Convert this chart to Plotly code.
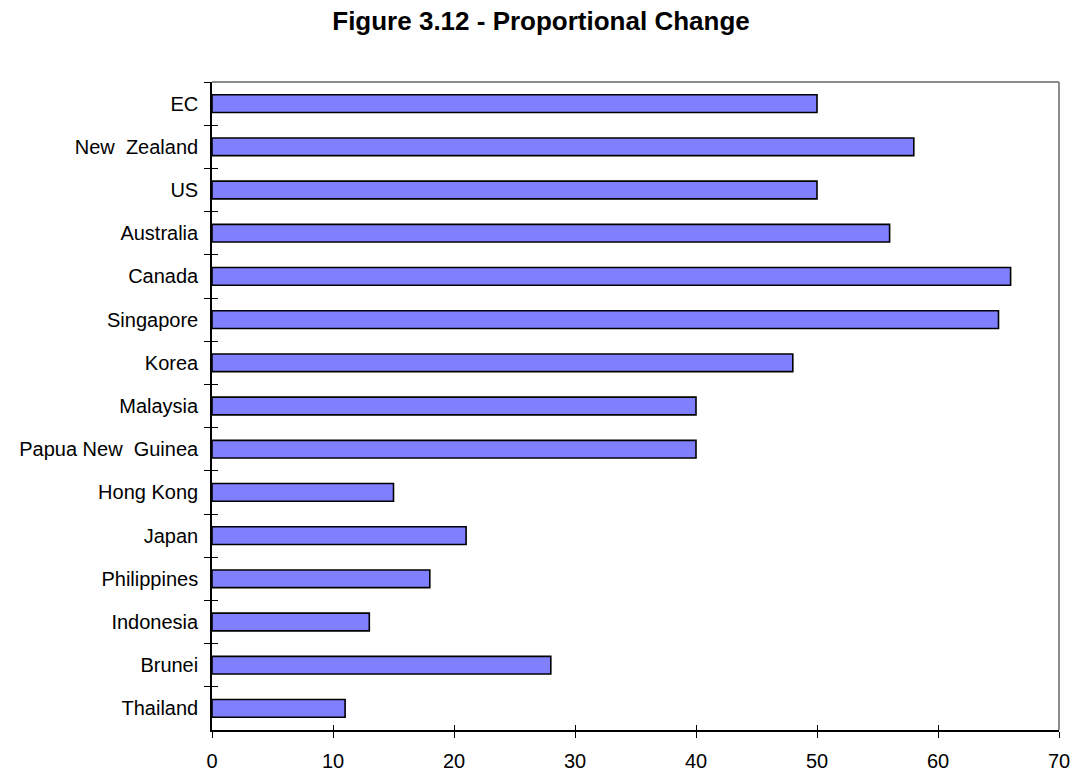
import plotly.graph_objects as go

# Economies, listed top to bottom as they appear on the chart
countries = [
    "EC", "New  Zealand", "US", "Australia", "Canada", "Singapore", "Korea",
    "Malaysia", "Papua New  Guinea", "Hong Kong", "Japan", "Philippines",
    "Indonesia", "Brunei", "Thailand",
]
# Proportional change for each economy
change = [50, 58, 50, 56, 66, 65, 48, 40, 40, 15, 21, 18, 13, 28, 11]

x_ticks = [0, 10, 20, 30, 40, 50, 60, 70]

FONT = "Liberation Sans, Arial, sans-serif"
BAR_FILL = "#8080FF"
FRAME = "#8c8c8c"

fig = go.Figure()

fig.add_trace(go.Bar(
    x=change, y=countries, orientation="h",
    marker=dict(color=BAR_FILL, line=dict(color="black", width=1.6)),
    hoverinfo="x+y", showlegend=False,
))
# Twin trace on overlay axes so the tick marks can cross the axis lines
fig.add_trace(go.Bar(
    x=change, y=countries, orientation="h", xaxis="x2", yaxis="y2",
    marker=dict(color="rgba(0,0,0,0)", line=dict(width=0)),
    hoverinfo="skip", showlegend=False,
))

common_x = dict(range=[0, 70], tickvals=x_ticks, fixedrange=True, zeroline=False, showgrid=False)
common_y = dict(autorange="reversed", type="category", tickson="boundaries",
                fixedrange=True, showgrid=False)

fig.update_layout(
    width=1082, height=784,
    paper_bgcolor="white", plot_bgcolor="white",
    margin=dict(l=212, r=16, t=82, b=44),
    bargap=0.59,
    font=dict(family=FONT, size=20, color="black"),
    title=dict(
        text="<b>Figure 3.12 - Proportional Change</b>",
        x=0.5, xref="container", xanchor="center",
        y=1 - 21 / 784, yref="container", yanchor="middle",
        font=dict(family=FONT, size=26, color="black"),
    ),
    xaxis=dict(
        **common_x, ticks="outside", ticklen=6, tickwidth=1.2, tickcolor="black",
        showline=True, linecolor="black", linewidth=1.6,
        ticktext=[str(v) for v in x_ticks], ticklabelstandoff=6,
        tickfont=dict(family=FONT, size=20, color="black"),
    ),
    xaxis2=dict(
        **common_x, overlaying="x", anchor="y", side="bottom",
        ticks="inside", ticklen=5, tickwidth=1.2, tickcolor="black",
        showticklabels=False, showline=False,
    ),
    yaxis=dict(
        **common_y, ticks="outside", ticklen=6, tickwidth=1.2, tickcolor="black",
        showline=True, linecolor="black", linewidth=1.6, ticklabelstandoff=8,
        tickfont=dict(family=FONT, size=20, color="black"),
    ),
    yaxis2=dict(
        **common_y, overlaying="y", anchor="x", side="left",
        ticks="inside", ticklen=6, tickwidth=1.2, tickcolor="black",
        showticklabels=False, showline=False,
    ),
    shapes=[
        dict(type="line", xref="paper", yref="paper", x0=0, x1=1, y0=1, y1=1,
             line=dict(color=FRAME, width=2), layer="below"),
        dict(type="line", xref="paper", yref="paper", x0=1, x1=1, y0=0, y1=1,
             line=dict(color=FRAME, width=2), layer="below"),
    ],
)

fig.write_html("out.html")
